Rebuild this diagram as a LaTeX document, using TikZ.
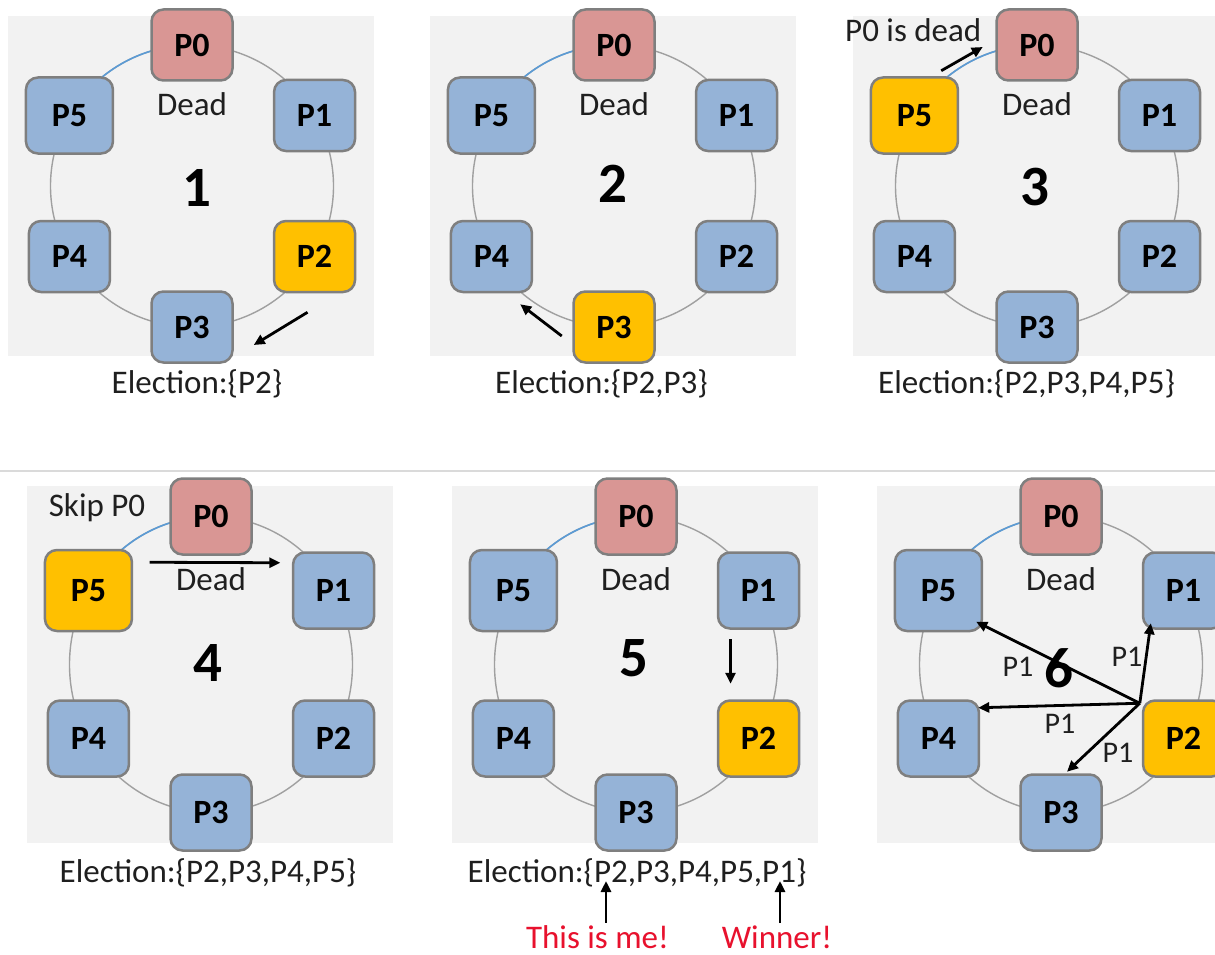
\documentclass[tikz,border=0pt]{standalone}
\usepackage{fontspec}
\setmainfont{Carlito}
\usetikzlibrary{arrows.meta,calc}

\definecolor{panelbg}{RGB}{242,242,242}
\definecolor{alive}{RGB}{149,179,215}
\definecolor{deadfill}{RGB}{217,150,148}
\definecolor{hilite}{RGB}{255,192,0}
\definecolor{procborder}{RGB}{127,127,127}
\definecolor{ringgray}{RGB}{160,160,160}
\definecolor{linkblue}{RGB}{91,155,213}
\definecolor{sepgray}{RGB}{218,218,218}
\definecolor{notered}{RGB}{232,17,45}

\tikzset{
  proc/.style={draw=procborder, line width=2.5pt, rounded corners=12pt,
    inner sep=0pt, text=black, font=\fontsize{34}{36}\selectfont\bfseries},
  ringline/.style={draw=ringgray, line width=1.4pt},
  deadlink/.style={draw=linkblue, line width=1.6pt},
  lbl/.style={inner sep=0pt, text=black!88, font=\fontsize{33}{38}\selectfont},
  small/.style={inner sep=0pt, text=black!88, font=\fontsize{30}{34}\selectfont},
  bignum/.style={inner sep=0pt, text=black, font=\fontsize{57}{60}\selectfont\bfseries},
  note/.style={inner sep=0pt, text=notered, font=\fontsize{33}{38}\selectfont},
  msg/.style={draw=black, line width=2.8pt, -{Triangle[length=11pt,width=10pt]}},
}

% one ring of six processes: #1 name prefix, #2/#3 ring centre,
% #4 vertical ring radius, #5 box height, #6 process holding the token
\newcommand\ringpanel[6]{%
  \begin{scope}[shift={(#2,#3)}]
    \fill[panelbg] (-184,{-1.206*#4}) rectangle (182,{1.206*#4});
    \draw[ringline] (0,0) ellipse[x radius=141.5, y radius=#4];
    \draw[deadlink] (0,-#4) arc[start angle=-90, end angle=-150, x radius=141.5, y radius=#4];
    \foreach \k/\ang in {0/-90,1/-30,2/30,3/90,4/150,5/-150}{%
      \ifnum\k=#6\relax\def\procfill{hilite}%
      \else\ifnum\k=0\relax\def\procfill{deadfill}\else\def\procfill{alive}\fi\fi
      \node[proc, fill=\procfill, minimum height={#5+5*(\k==5)},
        minimum width={81+6*(\k==5)}] (#1\k) at (\ang:141.5 and #4) {P\k};
    }
    \node[lbl] (#1dead) at (0,{-0.58*#4}) {Dead};
  \end{scope}}

\begin{document}
\begin{tikzpicture}[x=1pt,y=-1pt]
\useasboundingbox (0,0) rectangle (1215,955);
\clip (0,0) rectangle (1215,955);
\fill[white] (0,0) rectangle (1215,955);

% separator between the two rows
\draw[sepgray, line width=1.8pt] (0,471) -- (1215,471);

% top row
\ringpanel{a}{192}{186}{141}{71}{2}
\ringpanel{b}{614}{186}{141}{71}{3}
\ringpanel{c}{1037}{186}{141}{71}{5}
% bottom row
\ringpanel{d}{211}{664.5}{148}{76}{5}
\ringpanel{e}{636}{664.5}{148}{76}{2}
\ringpanel{f}{1061}{664.5}{148}{76}{2}

% step numbers
\node[bignum] (n1) at (197,188) {1};
\node[bignum] (n2) at (613,184) {2};
\node[bignum] (n3) at (1035,187) {3};
\node[bignum] (n4) at (208,663) {4};
\node[bignum] (n5) at (634,658) {5};

% election messages
\node[lbl, anchor=base] (el1) at (197,393) {Election:\{P2\}};
\node[lbl, anchor=base] (el2) at (601.5,393) {Election:\{P2,P3\}};
\node[lbl, anchor=base] (el3) at (1026.5,393) {Election:\{P2,P3,P4,P5\}};
\node[lbl, anchor=base] (el4) at (208,882) {Election:\{P2,P3,P4,P5\}};
\node[lbl, anchor=base] (el5) at (637,882) {Election:\{P2,P3,P4,P5,P1\}};

% step 1: P2 passes to P3
\draw[msg] ($(a2.south)+(-7,19)$) -- ($(a3.east)+(20,18)$);
% step 2: P3 passes to P4
\draw[msg] ($(b3.west)+(-10.5,9)$) -- ($(b4.south east)+(-13,11)$);
% step 3: P5 finds P0 dead
\node[lbl, anchor=base west] (deadnote) at (845,42) {P0 is dead};
\draw[msg] ($(c5.north east)+(-18,-5.5)$) -- ($(c0.west)+(-12.5,2)$);
% step 4: P5 skips P0 and passes to P1
\node[lbl, anchor=base] (skip) at (97,516) {Skip P0};
\draw[msg] ($(d5.north east)+(16.5,13.5)$) -- ($(d1.north west)+(-11.5,11.5)$);
% step 5: P1 passes back to P2
\draw[msg] ($(e1.south)+(-28,9.5)$) -- ($(e2.north)+(-28,-15.5)$);
\coordinate (tipme) at (606,881);
\coordinate (tipwin) at (780,881);
\node[note, anchor=base] (me) at (597.5,948) {This is me!};
\node[note, anchor=base] (win) at (777,948) {Winner!};
\draw[msg] ($(me.north -| tipme)+(0,-2)$) -- (tipme);
\draw[msg] ($(win.north -| tipwin)+(0,-2)$) -- (tipwin);

% step 6: P2 announces the coordinator P1
\coordinate (o6) at ($(f2.north west)+(-2,4)$);
\draw[msg] (o6) -- ($(f5.south east)+(-7,-10.5)$);
\draw[msg] (o6) -- ($(f1.south west)+(9,-6.5)$);
\draw[msg] (o6) -- ($(f4.north east)+(-2,8.5)$);
\draw[msg] (o6) -- ($(f3.north)+(6,-1.5)$);
\node[small] (m5) at (1018,667) {P1};
\node[small] (m1) at (1127,657) {P1};
\node[small] (m4) at (1060,724) {P1};
\node[small] (m3) at (1118,753) {P1};
\node[bignum] (n6) at (1059,668) {6};
\end{tikzpicture}
\end{document}
